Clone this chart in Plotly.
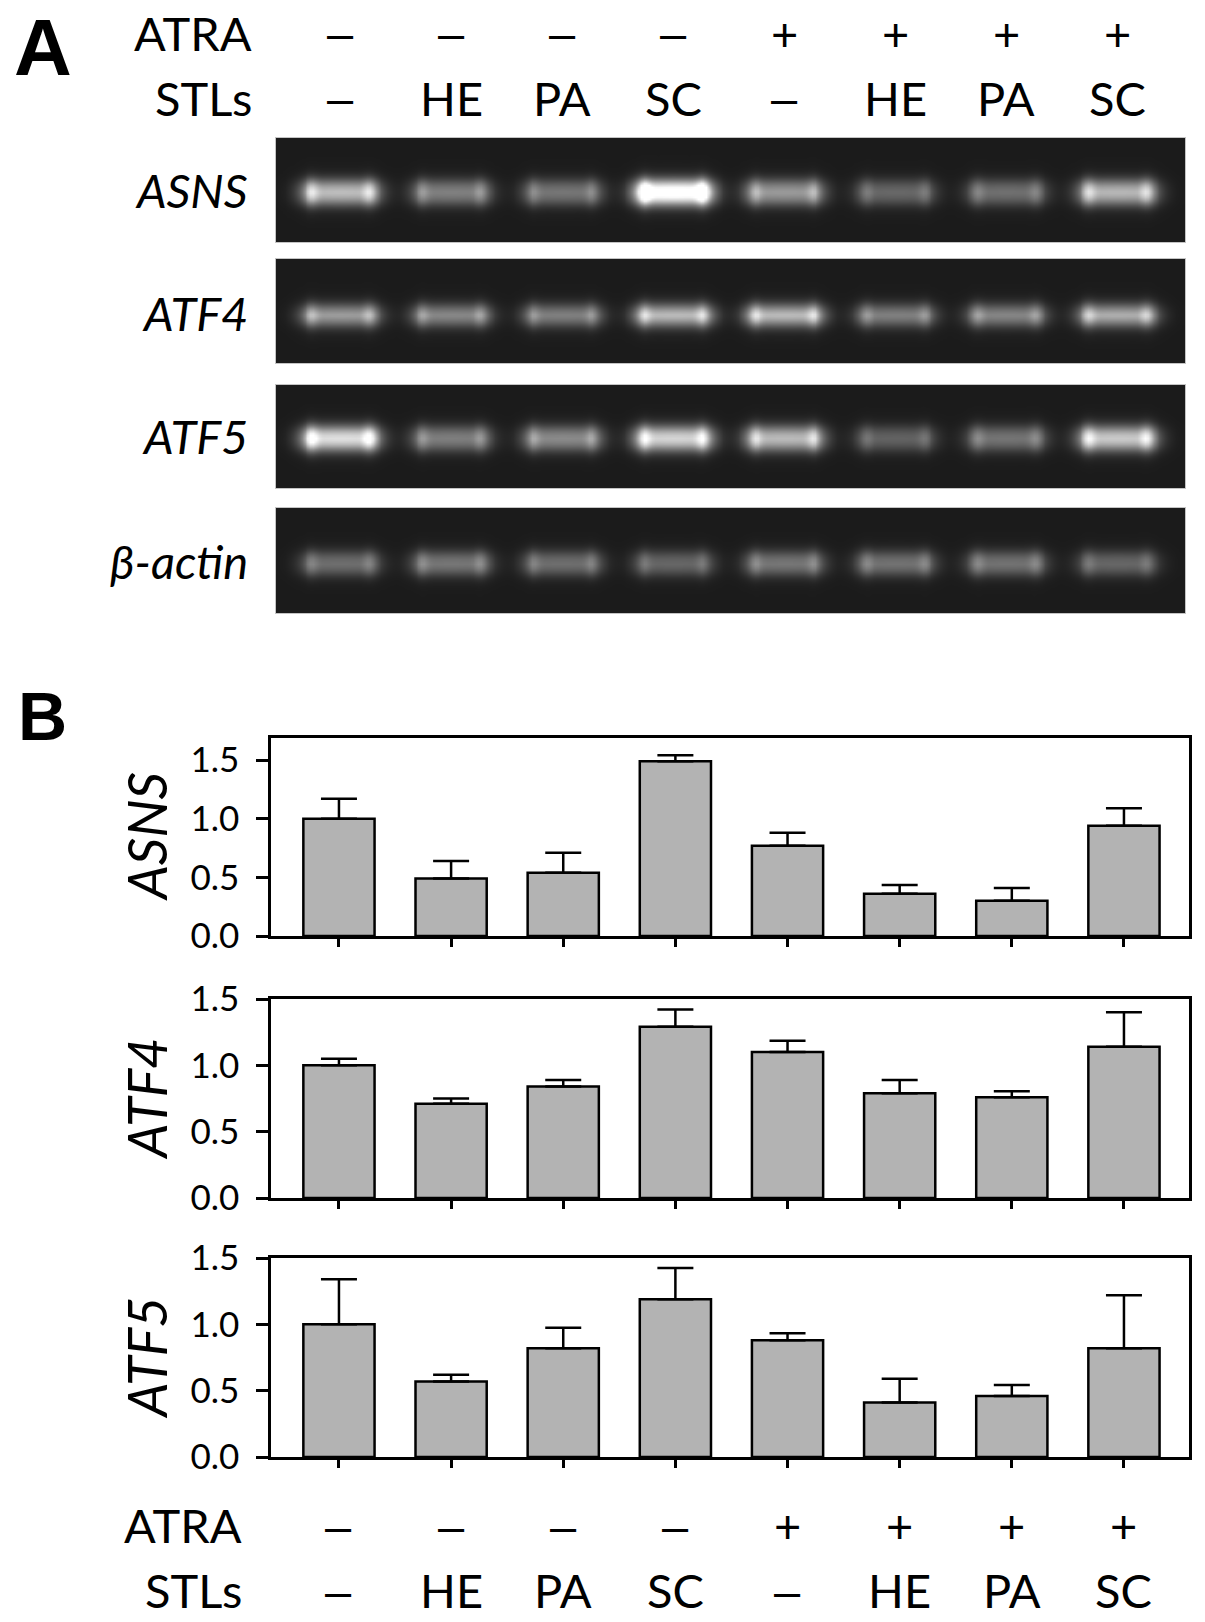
import numpy as np
import plotly.graph_objects as go

W, H = 1205, 1622

# ---- data -------------------------------------------------------------
lanes = [0, 1, 2, 3, 4, 5, 6, 7]
atra = ["–", "–", "–", "–", "+", "+", "+", "+"]
stls = ["–", "HE", "PA", "SC", "–", "HE", "PA", "SC"]

gel_names = ["ASNS", "ATF4", "ATF5", "β-actin"]
# band brightness (1 = saturated white)
band_asns = [0.78, 0.50, 0.45, 1.20, 0.62, 0.38, 0.42, 0.75]
band_atf4 = [0.66, 0.56, 0.52, 0.80, 0.80, 0.52, 0.55, 0.74]
band_atf5 = [0.95, 0.50, 0.56, 0.90, 0.78, 0.36, 0.45, 0.85]
band_actin = [0.42, 0.46, 0.42, 0.38, 0.46, 0.44, 0.44, 0.38]

asns_mean = [1.00, 0.49, 0.54, 1.49, 0.77, 0.36, 0.30, 0.94]
asns_err = [0.17, 0.15, 0.17, 0.05, 0.11, 0.075, 0.11, 0.15]
atf4_mean = [1.00, 0.71, 0.84, 1.29, 1.10, 0.79, 0.76, 1.14]
atf4_err = [0.05, 0.04, 0.05, 0.13, 0.085, 0.10, 0.045, 0.26]
atf5_mean = [1.00, 0.57, 0.82, 1.19, 0.88, 0.41, 0.46, 0.82]
atf5_err = [0.34, 0.05, 0.155, 0.235, 0.053, 0.18, 0.083, 0.40]
ytick_vals = [0.0, 0.5, 1.0, 1.5]


def px(x):
    return x / W


def py(y):
    return 1 - y / H


FONT = "Lato"
fig = go.Figure()
layout = dict(width=W, height=H,
              margin=dict(l=0, r=0, t=0, b=0, pad=0, autoexpand=False),
              paper_bgcolor="white", plot_bgcolor="white",
              showlegend=False, font=dict(family=FONT, color="black"))
ann = []


def cond_label(t, xref, x, y):
    # the dashes come out too short in Lato, Liberation Sans gives the right length
    fam = "Liberation Sans" if t == "–" else FONT
    return dict(text=t, xref=xref, yref="paper", x=x, y=y, xanchor="center",
                yanchor="middle", showarrow=False, font=dict(size=47, family=fam))


# ---- panel A: gels ----------------------------------------------------
gel_boxes = [(138, 242), (259, 363), (385, 488), (508, 613)]
band_y = [192, 315, 438, 563]
band_half = [11, 9, 10, 10]
gel_x0, gel_x1 = -0.577, 7.61
nx, ny = 320, 52
gx = np.linspace(gel_x0, gel_x1, nx)


def band_image(levels, top, bottom, yc, hh):
    gy = np.linspace(top, bottom, ny)
    v = 1 / (1 + np.exp((np.abs(gy - yc) - hh) / 4.0))
    z = np.zeros((ny, nx))
    for i, lv in enumerate(levels):
        d = np.abs(gx - lanes[i])
        h = 1 / (1 + np.exp((d - 0.35) / 0.05))
        edge = 1 + 0.5 * np.exp(-((d - 0.27) / 0.06) ** 2)
        z += lv * np.outer(v, h * edge)
    return gy, np.round(np.clip(z, 0, 1), 3)


bands = [band_asns, band_atf4, band_atf5, band_actin]
for k in range(4):
    top, bot = gel_boxes[k]
    gy, z = band_image(bands[k], top, bot, band_y[k], band_half[k])
    n = k + 1
    fig.add_trace(go.Heatmap(x=gx, y=gy, z=z, zmin=0, zmax=1, zsmooth="best",
                             colorscale=[[0, "rgb(27,27,27)"], [0.5, "rgb(135,135,135)"],
                                         [1, "rgb(255,255,255)"]],
                             showscale=False, hoverinfo="skip",
                             xaxis=f"x{n}", yaxis=f"y{n}"))
    common = dict(showticklabels=False, ticks="", showgrid=False, zeroline=False,
                  showline=True, linecolor="#c4c4c4", linewidth=1, mirror=True,
                  automargin=False)
    layout[f"xaxis{n}"] = dict(domain=[px(276), px(1185)], range=[gel_x0, gel_x1],
                               anchor=f"y{n}", **common)
    layout[f"yaxis{n}"] = dict(domain=[py(bot), py(top)], range=[bot, top],
                               anchor=f"x{n}", **common)
    ann.append(dict(text=gel_names[k], xref="paper", yref="paper", x=px(250),
                    y=py(band_y[k] - 2), xanchor="right", yanchor="middle",
                    showarrow=False, font=dict(size=47, family=FONT, style="italic")))

# top condition labels
for label, yy, vals in [("ATRA", 33, atra), ("STLs", 98, stls)]:
    ann.append(dict(text=label, xref="paper", yref="paper", x=px(254), y=py(yy),
                    xanchor="right", yanchor="middle", showarrow=False,
                    font=dict(size=47)))
    for i, t in enumerate(vals):
        ann.append(cond_label(t, "x1", lanes[i], py(yy)))

ann.append(dict(text="<b>A</b>", xref="paper", yref="paper", x=px(12), y=py(48),
                xanchor="left", yanchor="middle", showarrow=False,
                font=dict(size=80, family="Liberation Sans")))

# ---- panel B: bar charts ----------------------------------------------
bar_x0, bar_x1 = -0.606, 7.58
plots = [
    ("ASNS", asns_mean, asns_err, 738, 936, 1.688),
    ("ATF4", atf4_mean, atf4_err, 999, 1198, 1.5),
    ("ATF5", atf5_mean, atf5_err, 1258, 1457, 1.5),
]
for k, (name, mean, err, top, bot, ymax) in enumerate(plots):
    n = k + 5
    fig.add_trace(go.Bar(x=lanes, y=mean, width=0.635,
                         marker=dict(color="#b3b3b3", line=dict(color="black", width=2.5)),
                         error_y=dict(type="data", array=err, arrayminus=[0] * 8,
                                      symmetric=False, color="black",
                                      thickness=2.5, width=18),
                         xaxis=f"x{n}", yaxis=f"y{n}", hoverinfo="skip"))
    layout[f"xaxis{n}"] = dict(domain=[px(271), px(1189)], range=[bar_x0, bar_x1],
                               tickvals=lanes, showticklabels=False, ticks="outside",
                               ticklen=8, tickwidth=2.5, tickcolor="black",
                               showgrid=False, zeroline=False, showline=True,
                               linecolor="black", linewidth=2.5, mirror=True,
                               automargin=False, anchor=f"y{n}")
    layout[f"yaxis{n}"] = dict(domain=[py(bot), py(top)], range=[0, ymax],
                               tickvals=ytick_vals, tickformat=".1f",
                               ticks="outside", ticklen=12, tickwidth=2.5,
                               tickcolor="black", ticklabelstandoff=10,
                               tickfont=dict(size=35, family=FONT),
                               showgrid=False, zeroline=False, showline=True,
                               linecolor="black", linewidth=2.5, mirror=True,
                               automargin=False, anchor=f"x{n}")
    ann.append(dict(text=name, xref="paper", yref="paper", x=px(146),
                    y=py((top + bot) / 2), textangle=-90,
                    xanchor="center", yanchor="middle", showarrow=False,
                    font=dict(size=54, family=FONT, style="italic")))

# bottom condition labels
for label, yy, vals in [("ATRA", 1525, atra), ("STLs", 1590, stls)]:
    ann.append(dict(text=label, xref="paper", yref="paper", x=px(244), y=py(yy),
                    xanchor="right", yanchor="middle", showarrow=False,
                    font=dict(size=47)))
    for i, t in enumerate(vals):
        ann.append(cond_label(t, "x7", lanes[i], py(yy)))

ann.append(dict(text="<b>B</b>", xref="paper", yref="paper", x=px(16), y=py(716),
                xanchor="left", yanchor="middle", showarrow=False,
                font=dict(size=68, family="Liberation Sans")))

layout["annotations"] = ann
fig.update_layout(**layout)
fig.write_html("out.html", config={"displayModeBar": False},
               post_script="document.body.style.margin='0';")
